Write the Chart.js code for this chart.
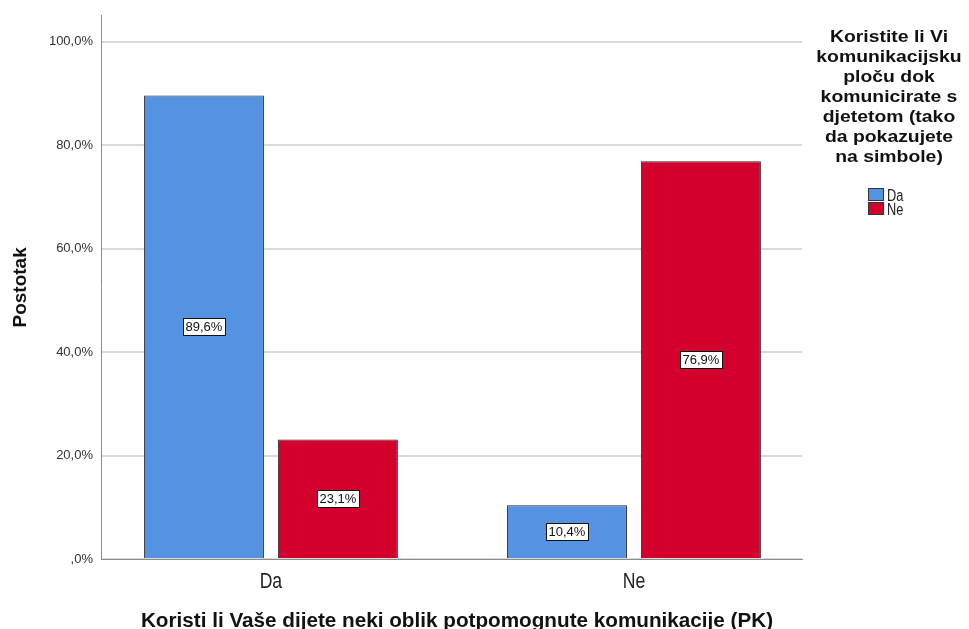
<!DOCTYPE html>
<html><head><meta charset="utf-8">
<script src="https://cdn.jsdelivr.net/npm/chart.js@4.4.1/dist/chart.umd.min.js"></script>
<style>html,body{margin:0;padding:0;background:#fff;} #wrap{width:969px;height:629px;position:relative;}</style>
</head><body><div id="wrap"><canvas id="c" width="969" height="629"></canvas></div>
<script>
const categories = ['Da', 'Ne'];
const seriesNames = ['Da', 'Ne'];
const seriesDa = [89.6, 10.4];
const seriesNe = [23.1, 76.9];
const yTicks = [0, 20, 40, 60, 80, 100];
const legendTitle = ['Koristite li Vi', 'komunikacijsku', 'ploču dok', 'komunicirate s', 'djetetom (tako', 'da pokazujete', 'na simbole)'];
const xTitle = 'Koristi li Vaše dijete neki oblik potpomognute komunikacije (PK)';
const yTitle = 'Postotak';

const COLORS = ['#5493e2', '#d3002d'];
const SANS = "'Liberation Sans', Arial, sans-serif";
const fmt = v => v === 0 ? ',0%' : v.toFixed(1).replace('.', ',') + '%';

// draw text horizontally condensed (narrow face look of the original)
function narrowText(ctx, txt, x, y, sx) {
  ctx.save();
  ctx.translate(x, y);
  ctx.scale(sx, 1);
  ctx.fillText(txt, 0, 0);
  ctx.restore();
}

const labelPlugin = {
  id: 'barLabels',
  afterDatasetsDraw(chart) {
    const ctx = chart.ctx;
    ctx.save();
    ctx.font = "13px " + SANS;
    ctx.textAlign = 'center';
    ctx.textBaseline = 'middle';
    chart.data.datasets.forEach((ds, i) => {
      const meta = chart.getDatasetMeta(i);
      meta.data.forEach((bar, j) => {
        const txt = fmt(ds.data[j]);
        const cx = bar.x;
        const cy = (bar.y + bar.base) / 2;
        const w = Math.round(ctx.measureText(txt).width + 5);
        const h = 17;
        const x0 = Math.round(cx - w / 2) + 0.5, y0 = Math.round(cy - h / 2) + 0.5;
        ctx.fillStyle = '#fff';
        ctx.fillRect(x0, y0, w, h);
        ctx.strokeStyle = '#111';
        ctx.lineWidth = 1;
        ctx.strokeRect(x0, y0, w, h);
        ctx.fillStyle = '#111';
        ctx.fillText(txt, cx, cy + 1);
      });
    });
    ctx.restore();
  }
};

const sidePlugin = {
  id: 'sideLegend',
  afterDraw(chart) {
    const ctx = chart.ctx;
    ctx.save();
    // legend title
    ctx.font = "bold 17px " + SANS;
    ctx.fillStyle = '#111';
    ctx.textAlign = 'center';
    ctx.textBaseline = 'alphabetic';
    legendTitle.forEach((line, k) => narrowText(ctx, line, 889, 42 + k * 20, 1.14));
    // legend items
    ctx.textAlign = 'left';
    ctx.font = "16px " + SANS;
    seriesNames.forEach((name, k) => {
      const y = 188 + k * 14;
      ctx.fillStyle = COLORS[k];
      ctx.fillRect(868.5, y + 0.5, 15, 12);
      ctx.strokeStyle = '#333';
      ctx.lineWidth = 1;
      ctx.strokeRect(868.5, y + 0.5, 15, 12);
      ctx.fillStyle = '#222';
      narrowText(ctx, name, 887, y + 12.5, 0.8);
    });
    // category labels under the x axis
    const xs = chart.scales.x;
    ctx.font = "22px " + SANS;
    ctx.textAlign = 'center';
    ctx.fillStyle = '#222';
    categories.forEach((c, i) => narrowText(ctx, c, xs.getPixelForValue(i), 588, 0.8));
    // x axis title (centred like the original, slightly right of plot centre)
    ctx.font = "bold 20.7px " + SANS;
    ctx.fillStyle = '#111';
    ctx.fillText(xTitle, 457, 627);
    ctx.restore();
  }
};

new Chart(document.getElementById('c'), {
  type: 'bar',
  data: {
    labels: categories,
    datasets: [
      { label: seriesNames[0], data: seriesDa, backgroundColor: COLORS[0], borderColor: '#2a2a2a', borderWidth: 1 },
      { label: seriesNames[1], data: seriesNe, backgroundColor: COLORS[1], borderColor: '#2a2a2a', borderWidth: 1 }
    ]
  },
  options: {
    responsive: false,
    devicePixelRatio: 1,
    animation: false,
    layout: { padding: { top: 15, right: 167, bottom: 0, left: 0 } },
    plugins: { legend: { display: false }, tooltip: { enabled: false } },
    datasets: { bar: { categoryPercentage: 0.738, barPercentage: 0.896 } },
    scales: {
      x: {
        offset: true,
        grid: { display: false, drawTicks: false },
        border: { display: true, color: '#8c8c8c', width: 1 },
        ticks: { display: false },
        title: { display: false, text: xTitle },
        afterFit(scale) { scale.height = 70; },
        afterUpdate(scale) {
          // category centres sit at ~24% and ~76% of the plot width in the original
          scale._startValue = -0.468;
          scale._valueRange = 1.931;
        }
      },
      y: {
        min: 0, max: 105,
        afterBuildTicks(scale) { scale.ticks = yTicks.map(v => ({ value: v })); },
        grid: { color: '#dadada', lineWidth: 2, drawTicks: false },
        border: { display: true, color: '#8c8c8c', width: 1 },
        ticks: { color: '#333', font: { size: 13, family: SANS }, padding: 8, callback: v => fmt(v) },
        title: { display: true, text: yTitle, color: '#111', font: { size: 19, weight: 'bold', family: SANS }, padding: { top: 9, bottom: 0 } },
        afterFit(scale) { scale.width = 101; }
      }
    }
  },
  plugins: [labelPlugin, sidePlugin]
});
</script></body></html>
